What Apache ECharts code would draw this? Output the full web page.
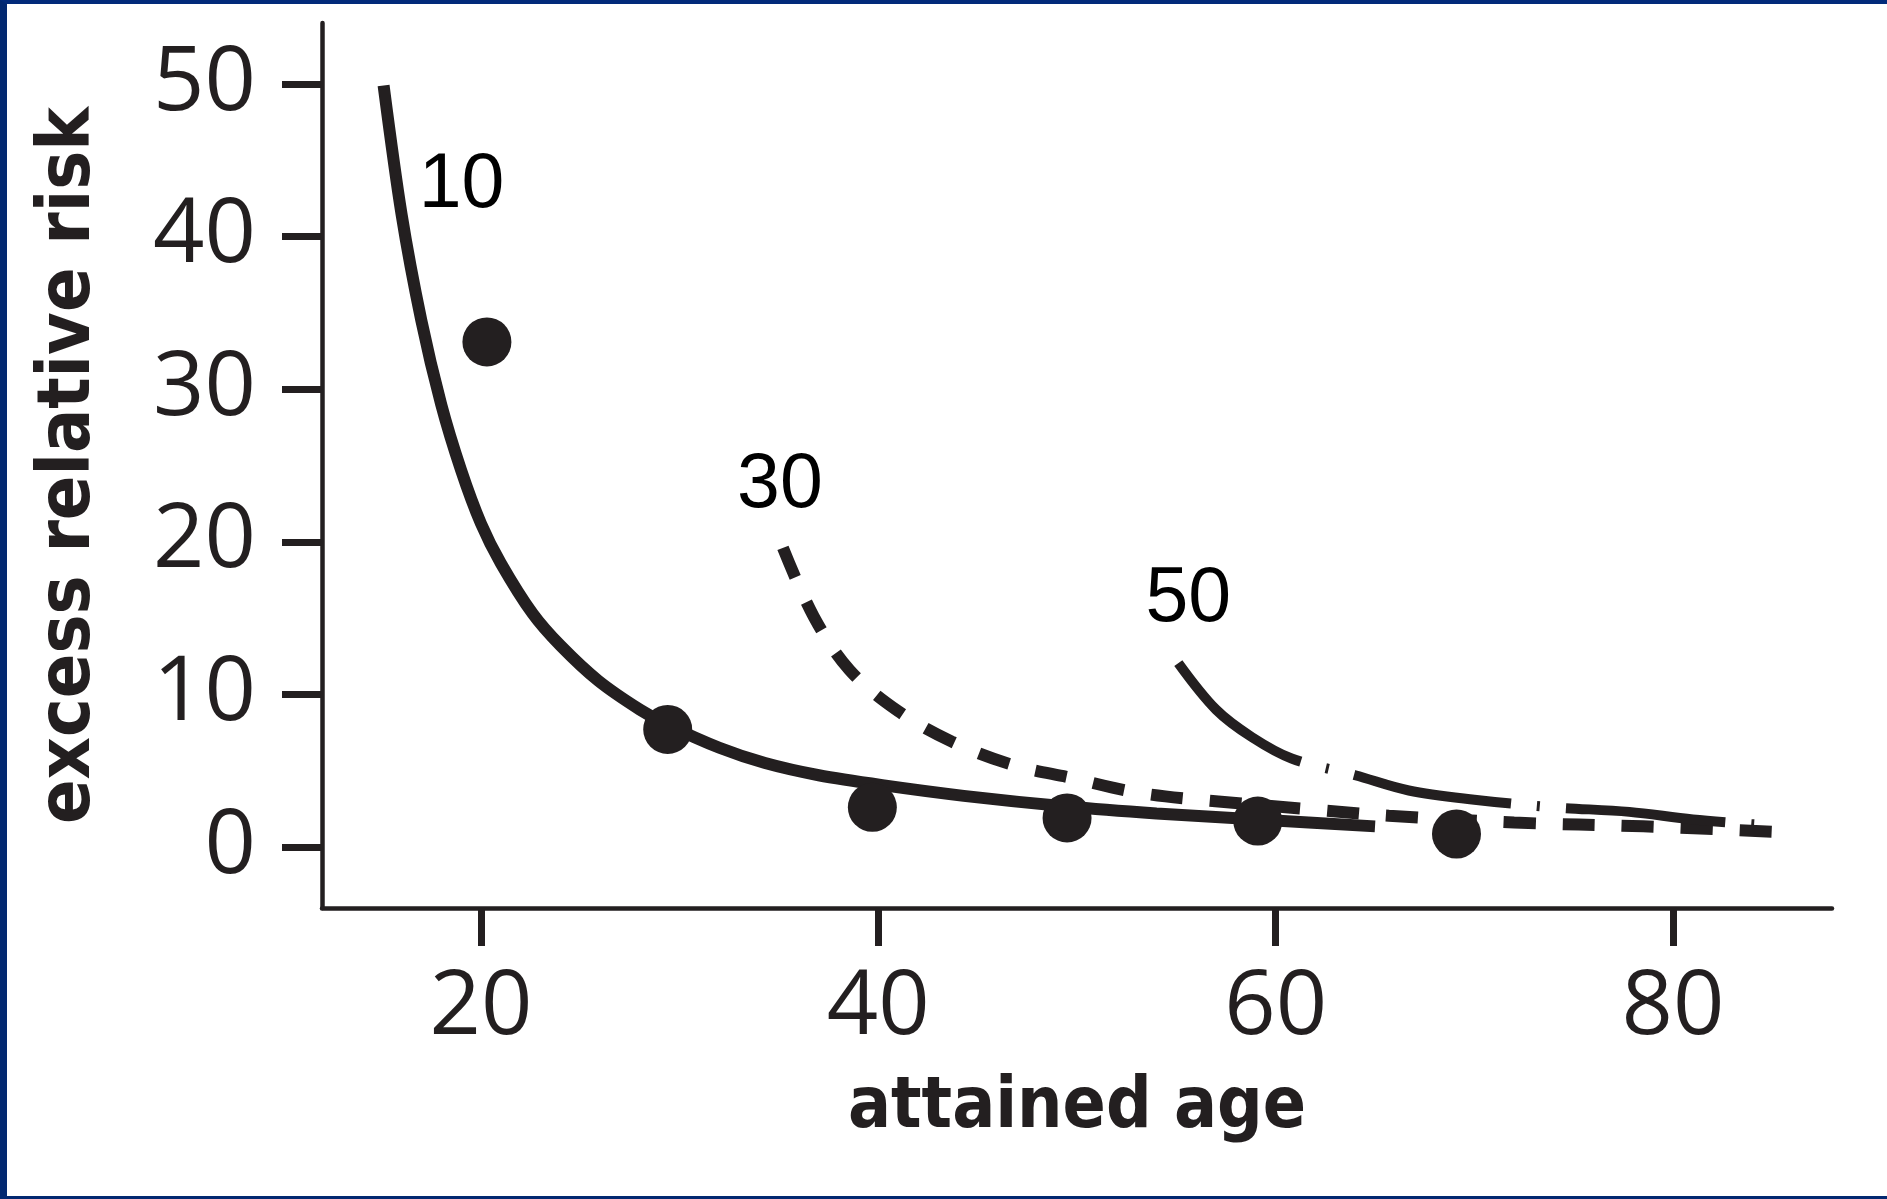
<!DOCTYPE html>
<html>
<head>
<meta charset="utf-8">
<title>Excess relative risk by attained age</title>
<script src="https://cdn.jsdelivr.net/npm/echarts@6/dist/echarts.min.js"></script>
<style>
  html, body { margin: 0; padding: 0; background: #ffffff; }
  #chart { position: absolute; left: 0; top: 0; width: 1887px; height: 1199px; }
  #frame {
    position: absolute; left: 0; top: 0; width: 1887px; height: 1199px;
    box-sizing: border-box; pointer-events: none;
    border-left: 7px solid #022870; border-top: 4px solid #022a7a; border-bottom: 3px solid #022870;
  }
</style>
</head>
<body>
<div id="chart"></div>
<div id="frame"></div>
<script>
// Age at exposure for each fitted curve
const exposureAges = ['10', '30', '50'];

// Fitted excess relative risk, exposure at age 10 (solid)
const age10 = [15.1, 16.0, 17.0, 18.0, 19.0, 20.0, 21.0, 22.6, 24.0, 25.9, 28.0, 29.4, 32.0, 34.3, 37.0, 40.2, 44.3, 49.5, 54.0, 59.1, 65.0];
const err10 = [49.9, 41.5, 34.5, 29.0, 24.7, 21.2, 18.6, 15.3, 13.2, 10.9, 9.0, 8.0, 6.5, 5.5, 4.7, 4.05, 3.35, 2.65, 2.2, 1.8, 1.35];

// Exposure at age 30 (dashed)
const age30 = [35.2, 36.75, 38.55, 41.0, 43.7, 46.7, 49.8, 52.9, 56.1, 62.4, 65.7, 72.0, 78.5, 85.0];
const err30 = [19.6, 15.1, 11.6, 8.9, 6.9, 5.4, 4.5, 3.6, 3.1, 2.4, 2.05, 1.6, 1.35, 1.0];

// Exposure at age 50 (dash-dot)
const age50 = [55.1, 57.0, 58.8, 60.8, 64.0, 66.7, 70.0, 74.0, 77.8, 81.0, 85.0];
const err50 = [12.05, 9.0, 7.2, 5.8, 4.7, 3.7, 3.1, 2.6, 2.3, 1.8, 1.4];

// Observed excess relative risk, exposure at age 10
const obsAge = [20.3, 29.4, 39.7, 49.5, 59.1, 69.1];
const obsErr = [33.1, 7.7, 2.6, 1.9, 1.7, 0.85];

// Axis ticks
const xTicks = [20, 40, 60, 80];
const yTicks = [0, 10, 20, 30, 40, 50];

const ink = '#231f20';
const pairs = (xs, ys) => xs.map((x, i) => [x, ys[i]]);

// Curve name placed next to the first point of its curve
const curveLabel = (name, x, y, offset) => ({
  symbol: 'circle',
  symbolSize: 0,
  silent: true,
  data: [{ name: name, coord: [x, y] }],
  label: {
    show: true,
    position: 'inside',
    formatter: '{b}',
    offset: offset,
    color: '#000000',
    fontFamily: '"Liberation Sans", Arial, sans-serif',
    fontSize: 77,
    align: 'center',
    verticalAlign: 'middle'
  }
});

const chart = echarts.init(document.getElementById('chart'), null, { renderer: 'canvas' });

chart.setOption({
  backgroundColor: '#ffffff',
  animation: false,
  grid: { left: 322, top: 23, width: 1510, height: 885, containLabel: false },
  xAxis: {
    type: 'value',
    min: 12,
    max: 88,
    name: 'attained age',
    nameLocation: 'middle',
    nameGap: 201,
    nameTextStyle: {
      color: ink,
      fontFamily: '"DejaVu Sans Condensed", "DejaVu Sans", sans-serif',
      fontWeight: 'bold',
      fontSize: 71,
      verticalAlign: 'middle'
    },
    axisLine: { show: true, onZero: false, lineStyle: { color: ink, width: 4.5 } },
    axisTick: { show: true, length: 38, lineStyle: { color: ink, width: 7 }, customValues: xTicks },
    axisLabel: {
      show: true, margin: 55, color: ink,
      fontFamily: '"Open Sans", sans-serif', fontSize: 90,
      customValues: xTicks
    },
    splitLine: { show: false }
  },
  yAxis: {
    type: 'value',
    min: -4,
    max: 54,
    name: 'excess relative risk',
    nameLocation: 'middle',
    nameGap: 252,
    nameRotate: 90,
    nameTextStyle: {
      color: ink,
      fontFamily: '"DejaVu Sans Condensed", "DejaVu Sans", sans-serif',
      fontWeight: 'bold',
      fontSize: 73,
      verticalAlign: 'middle'
    },
    axisLine: { show: true, onZero: false, lineStyle: { color: ink, width: 4.5 } },
    axisTick: { show: true, length: 40, lineStyle: { color: ink, width: 7 }, customValues: yTicks },
    axisLabel: {
      show: true, margin: 66, color: ink,
      fontFamily: '"Open Sans", sans-serif', fontSize: 90,
      customValues: yTicks
    },
    splitLine: { show: false }
  },
  series: [
    {
      name: exposureAges[0],
      type: 'line',
      data: pairs(age10, err10),
      smooth: 0.3,
      symbol: 'none',
      lineStyle: { color: ink, width: 12, type: 'solid' },
      z: 3,
      markPoint: curveLabel(exposureAges[0], age10[0], err10[0], [78, 100])
    },
    {
      name: exposureAges[1],
      type: 'line',
      data: pairs(age30, err30),
      smooth: 0.35,
      symbol: 'none',
      lineStyle: { color: ink, width: 12, type: [32, 27], cap: 'butt' },
      z: 3,
      markPoint: curveLabel(exposureAges[1], age30[0], err30[0], [-3, -62])
    },
    {
      name: exposureAges[2],
      type: 'line',
      data: pairs(age50, err50),
      smooth: 0.35,
      symbol: 'none',
      lineStyle: { color: ink, width: 10, type: [160, 26, 3, 26], cap: 'butt' },
      z: 3,
      markPoint: curveLabel(exposureAges[2], age50[0], err50[0], [10, -63])
    },
    {
      name: 'observed',
      type: 'scatter',
      data: pairs(obsAge, obsErr),
      symbol: 'circle',
      symbolSize: 49,
      itemStyle: { color: ink, opacity: 1 },
      z: 4
    }
  ]
});
</script>
</body>
</html>
